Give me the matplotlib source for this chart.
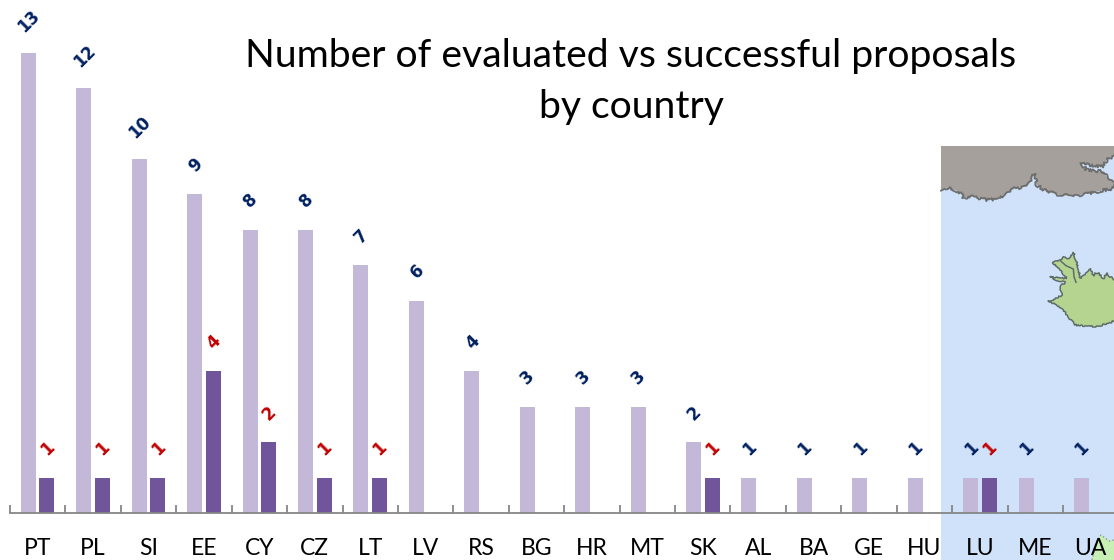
import matplotlib
matplotlib.use("Agg")
import matplotlib.pyplot as plt
from matplotlib.patches import Polygon, Rectangle
from matplotlib.transforms import Affine2D

countries = ["PT","PL","SI","EE","CY","CZ","LT","LV","RS","BG","HR","MT","SK","AL","BA","GE","HU","LU","ME","UA"]
evaluated = [13,12,10,9,8,8,7,6,4,3,3,3,2,1,1,1,1,1,1,1]
successful = [1,1,1,4,2,1,1,0,0,0,0,0,1,0,0,0,0,1,0,0]
title_text = "Number of evaluated vs successful proposals\nby country"

W, H = 1114, 560
plt.rcParams['font.family'] = ['Lato', 'DejaVu Sans']
fig = plt.figure(figsize=(W/100, H/100), dpi=100)
ax = fig.add_axes([0, 0, 1, 1])
step = 55.42; left = 10.0; unit = 35.4; base = 513.0
xlim = ((0-left)/step-0.5, (W-left)/step-0.5)
ylim = ((base-H)/unit, base/unit)
ax.patch.set_alpha(0)

px = Affine2D().scale(1, -1).translate(0, H)
def zoomed(pts, x0, y0):
    return [(x0+a/3, y0+b/3) for a, b in pts]

ax.add_patch(Rectangle((941, 146), 173, 414, transform=px, fc="#cfe2f9", ec="none", zorder=0))

coast = zoomed([(3,152),(20,143),(45,150),(62,160),(70,172),(100,170),(140,180),(170,178),(200,160),(225,145),(260,140),
                (272,125),(283,100),(290,135),(320,155),(370,167),(420,165),(470,155),(522,145),(522,125),(500,110),(490,95),
                (440,90),(420,70),(450,75),(490,80),(500,60),(522,48)], 940, 140)
land = coast + [(1114,146),(941,146)]
ax.add_patch(Polygon(land, closed=True, transform=px, fc="#a6a09c", ec="none", zorder=1))
cx, cy = zip(*coast)
l, = ax.plot(cx, cy, transform=px, color="#6d6f6f", lw=1.3, zorder=1.1)
l.set_sketch_params(scale=1.5, length=8, randomness=24)

iceland = zoomed([(222,105),(200,85),(190,100),(175,85),(165,82),(160,92),(150,72),(140,85),(128,95),(120,100),(118,85),
                  (115,70),(108,45),(100,22),(85,40),(70,35),(55,50),(38,50),(50,68),(65,80),(80,100),
                  (60,100),(30,95),(50,105),(75,112),(60,125),(65,150),(50,160),(25,170),(50,178),(70,195),(85,215),(105,240),
                  (140,243),(175,245),(222,228)], 1040, 245)
ax.add_patch(Polygon(iceland, closed=True, transform=px, fc="#b5d490", ec="none", zorder=1))
ix, iy = zip(*iceland)
l2, = ax.plot(ix, iy, transform=px, color="#5f6d69", lw=1.1, zorder=1.1)
l2.set_sketch_params(scale=0.8, length=6, randomness=24)
inlet = zoomed([(62,48),(78,62),(100,72),(102,95),(108,112)], 1040, 245)
ax.plot(*zip(*inlet), transform=px, color="#5f6d69", lw=1.1, zorder=1.1)

corner = [(1092,560),(1097,540),(1101,535),(1109,541),(1114,540),(1114,560)]
ax.add_patch(Polygon(corner, closed=True, transform=px, fc="#c8efb4", ec="none", zorder=1))
ax.plot(*zip(*corner[:5]), transform=px, color="#8a9a85", lw=1, ls=":", zorder=1.1)

x = list(range(len(countries)))
off = 9.25/step; bw = 15.0/step
ax.bar([i-off for i in x], evaluated, bw, color="#c3b8d8", zorder=2)
ax.bar([i+off for i in x], successful, bw, color="#70559b", zorder=2)

for i, v in enumerate(evaluated):
    dy = 23 if v >= 10 else 21
    ax.annotate(str(v), (i-off, v), xytext=(0.5, dy), textcoords="offset points", ha="center", va="center",
                rotation=45, rotation_mode="anchor", color="#002060", fontsize=12, fontweight="bold",
                family="DejaVu Sans", zorder=4)
for i, v in enumerate(successful):
    if v:
        ax.annotate(str(v), (i+off, v), xytext=(0.5, 21), textcoords="offset points", ha="center", va="center",
                    rotation=45, rotation_mode="anchor", color="#c00000", fontsize=12, fontweight="bold",
                    family="DejaVu Sans", zorder=4)

for s in ("top", "left", "right"):
    ax.spines[s].set_visible(False)
ax.spines["bottom"].set_position(("data", 0))
ax.spines["bottom"].set_color("#868686")
ax.spines["bottom"].set_linewidth(1.3)
ax.spines["bottom"].set_bounds(-0.5, xlim[1])
ax.spines["bottom"].set_zorder(3)
ax.set_yticks([])
ax.set_xticks([i-0.5 for i in range(len(countries))])
ax.set_xticklabels([])
ax.tick_params(axis="x", which="major", direction="in", length=5.5, width=1.3, color="#868686", zorder=3)
ax.set_xticks(x, minor=True)
ax.set_xticklabels(countries, minor=True, fontsize=16.5, color="black")
ax.tick_params(axis="x", which="minor", length=0, pad=18)
ax.set_xlim(*xlim)
ax.set_ylim(*ylim)

fig.text(631/W, 1-81.5/H, title_text, ha="center", va="center", fontsize=28.2, linespacing=1.5, color="black", zorder=5)
fig.savefig("out.png", dpi=100)
